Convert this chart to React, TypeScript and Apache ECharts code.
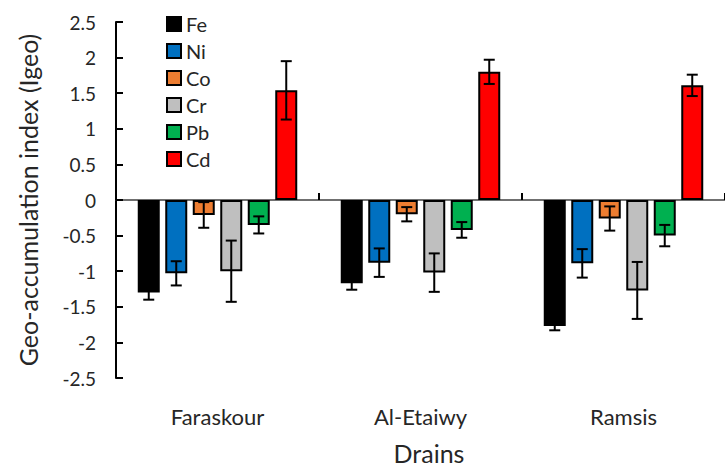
import React, { useEffect, useRef } from "react";
import * as echarts from "echarts";

const categories = ["Faraskour", "Al-Etaiwy", "Ramsis"];
const metals = ["Fe", "Ni", "Co", "Cr", "Pb", "Cd"];
const colors = ["#000000", "#0070C0", "#ED7D31", "#BFBFBF", "#00B050", "#FF0000"];

const fe = [-1.3, -1.17, -1.77];
const ni = [-1.03, -0.88, -0.89];
const co = [-0.21, -0.2, -0.26];
const cr = [-1.0, -1.02, -1.27];
const pb = [-0.35, -0.42, -0.5];
const cd = [1.54, 1.8, 1.61];

const feErr = [0.1, 0.09, 0.06];
const niErr = [0.17, 0.2, 0.2];
const coErr = [0.18, 0.1, 0.17];
const crErr = [0.43, 0.27, 0.4];
const pbErr = [0.12, 0.11, 0.15];
const cdErr = [0.41, 0.17, 0.15];

const yTicks = { min: -2.5, max: 2.5, interval: 0.5 };

const values = [fe, ni, co, cr, pb, cd];
const errors = [feErr, niErr, coErr, crErr, pbErr, cdErr];

const FONT = "Lato";
const TEXT = "#262626";
const BAR_W = 22;
const PITCH = 27.5;

export default function App() {
  const ref = useRef<HTMLDivElement>(null);
  useEffect(() => {
    if (!ref.current) return;
    const chart = echarts.init(ref.current, null, { renderer: "svg" });

    const barSeries = metals.map((m, i) => ({
      name: m,
      type: "bar",
      xAxisIndex: 0,
      data: values[i],
      barWidth: BAR_W,
      barGap: "25%",
      itemStyle: { color: colors[i], borderColor: "#000", borderWidth: 2 },
      z: 2,
    }));

    const errData: number[][] = [];
    values.forEach((arr, s) => {
      arr.forEach((v, c) => errData.push([c, s, v, errors[s][c]]));
    });

    const option = {
      animation: false,
      textStyle: { fontFamily: FONT },
      grid: { left: 116, top: 22, bottom: 86, width: 618 },
      legend: {
        orient: "vertical",
        left: 166,
        top: 14,
        padding: 0,
        itemWidth: 14,
        itemHeight: 14,
        itemGap: 7,
        icon: "rect",
        data: metals,
        itemStyle: { borderColor: "#000", borderWidth: 2 },
        textStyle: { fontFamily: FONT, fontSize: 20, color: TEXT },
      },
      xAxis: [
        {
          type: "category",
          data: categories,
          axisLine: { onZero: true, lineStyle: { color: "#404040", width: 1.5 } },
          axisTick: { show: true, inside: true, length: 7, lineStyle: { color: "#000", width: 2 } },
          axisLabel: { show: false },
          splitLine: { show: false },
        },
        {
          type: "category",
          data: categories,
          position: "bottom",
          axisLine: { show: false, onZero: false },
          axisTick: { show: false },
          axisLabel: { fontFamily: FONT, fontSize: 22, color: TEXT, margin: 27 },
          name: "Drains",
          nameLocation: "middle",
          nameGap: 62,
          nameTextStyle: { fontFamily: FONT, fontSize: 25, color: TEXT, padding: [0, 0, 0, 17] },
        },
      ],
      yAxis: {
        type: "value",
        min: yTicks.min,
        max: yTicks.max,
        interval: yTicks.interval,
        axisLine: { show: true, lineStyle: { color: "#000", width: 2 } },
        axisTick: { show: true, inside: true, length: 7, lineStyle: { color: "#000", width: 2 } },
        splitLine: { show: false },
        axisLabel: { fontFamily: FONT, fontSize: 19, color: TEXT, margin: 20 },
        name: "Geo-accumulation index (Igeo)",
        nameLocation: "middle",
        nameGap: 76,
        nameTextStyle: { fontFamily: FONT, fontSize: 25, color: TEXT },
      },
      series: [
        ...barSeries,
        {
          type: "custom",
          xAxisIndex: 0,
          data: errData,
          encode: { x: 0, y: 2 },
          z: 5,
          silent: true,
          renderItem: (params: any, api: any) => {
            const c = api.value(0);
            const s = api.value(1);
            const v = api.value(2);
            const e = api.value(3);
            const p = api.coord([c, v]);
            const x = p[0] + (s - 2.5) * PITCH;
            const yHi = api.coord([c, v + e])[1];
            const yLo = api.coord([c, v - e])[1];
            const style = { stroke: "#000", lineWidth: 2 };
            const hw = 5.5;
            return {
              type: "group",
              children: [
                { type: "line", shape: { x1: x, y1: yHi, x2: x, y2: yLo }, style },
                { type: "line", shape: { x1: x - hw, y1: yHi, x2: x + hw, y2: yHi }, style },
                { type: "line", shape: { x1: x - hw, y1: yLo, x2: x + hw, y2: yLo }, style },
              ],
            };
          },
        },
      ],
    };

    chart.setOption(option as any);
    return () => chart.dispose();
  }, []);

  return <div ref={ref} style={{ width: 725, height: 470, position: "absolute", left: 0, top: 0 }} />;
}
